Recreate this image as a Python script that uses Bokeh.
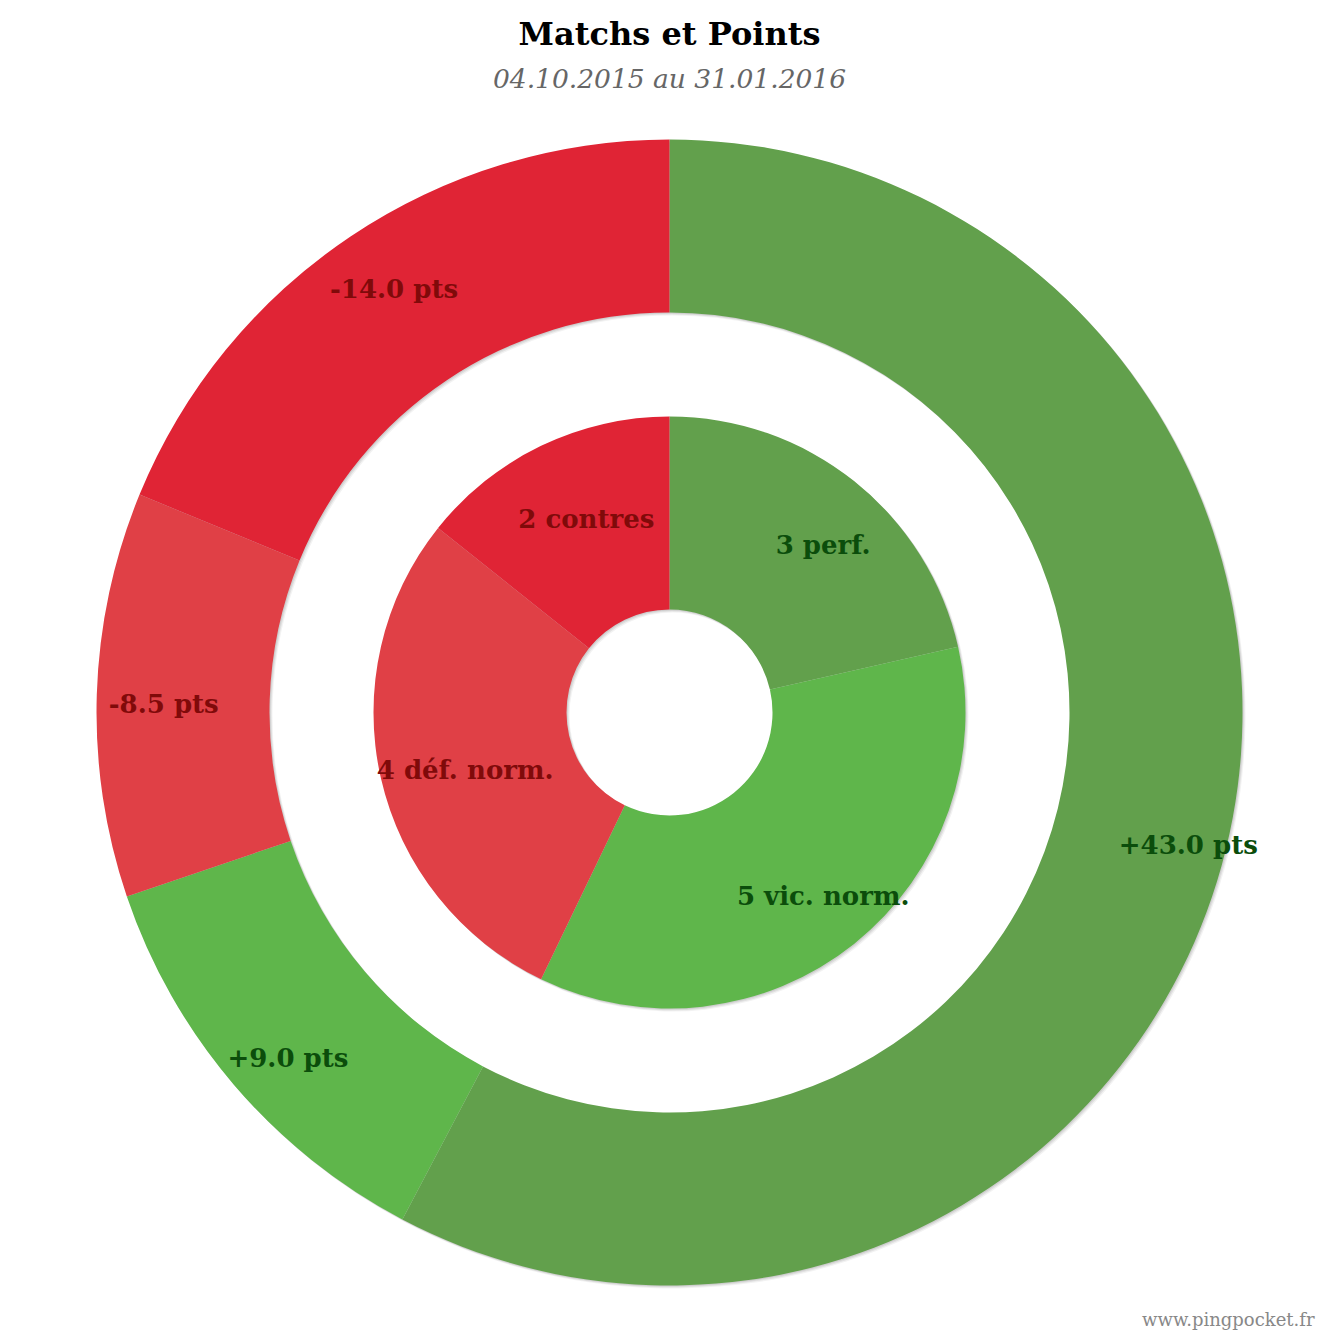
import numpy as np
from bokeh.plotting import figure
from bokeh.models import Range1d, ColumnDataSource, Label
from bokeh.core.properties import value
from bokeh.embed import file_html
from bokeh.resources import INLINE

# ---- data ----
title_text = "Matchs et Points"
subtitle_text = "04.10.2015 au 31.01.2016"
credit_text = "www.pingpocket.fr"

inner_labels = ["3 perf.", "5 vic. norm.", "4 déf. norm.", "2 contres"]
inner_values = [3, 5, 4, 2]
outer_labels = ["+43.0 pts", "+9.0 pts", "-8.5 pts", "-14.0 pts"]
outer_values = [43.0, 9.0, 8.5, 14.0]

slice_colors = ["#62A04C", "#5FB64B", "#E04046", "#E02435"]
text_colors = ["#0B4D0B", "#0B4D0B", "#800A0A", "#800A0A"]

# ---- layout ----
W = H = 1330
CX, CY = 669, -712
R_OUT_O, R_OUT_I = 573, 400
R_IN_O, R_IN_I = 296, 103
FONT = "DejaVu Serif"

p = figure(width=W, height=H, output_backend="svg", toolbar_location=None,
           x_range=Range1d(0, W), y_range=Range1d(-H, 0),
           x_axis_location=None, y_axis_location=None, min_border=0)
p.grid.visible = False
p.outline_line_color = None
p.background_fill_color = "white"


def ring(values, labels, r_in, r_out, label_r):
    v = np.asarray(values, dtype=float)
    frac = v / v.sum()
    cum = np.concatenate([[0.0], np.cumsum(frac)])
    th0 = cum[:-1] * 2 * np.pi  # clockwise from top
    th1 = cum[1:] * 2 * np.pi
    start = np.pi / 2 - th1
    end = np.pi / 2 - th0
    mid = (th0 + th1) / 2
    src = ColumnDataSource(dict(
        start=start, end=end, color=slice_colors,
        lx=CX + label_r * np.sin(mid), ly=CY + label_r * np.cos(mid),
        label=labels, tcolor=text_colors))
    # shadow
    for off, a in [(3.0, 0.05), (2.0, 0.07), (1.0, 0.08)]:
        p.annular_wedge(x=CX + off, y=CY - off, inner_radius=r_in, outer_radius=r_out,
                        start_angle="start", end_angle="end", source=src,
                        fill_color="black", fill_alpha=a, line_color=None)
    p.annular_wedge(x=CX, y=CY, inner_radius=r_in, outer_radius=r_out,
                    start_angle="start", end_angle="end", source=src,
                    fill_color="color", line_color=None)
    return src


src_out = ring(outer_values, outer_labels, R_OUT_I, R_OUT_O, 520)
src_in = ring(inner_values, inner_labels, R_IN_I, R_IN_O, 224)

for src in (src_out, src_in):
    p.text(x="lx", y="ly", text="label", source=src, text_color="tcolor",
           text_font=value(FONT), text_font_style="bold", text_font_size="26px",
           text_align="center", text_baseline="middle", x_offset=14, y_offset=8)

p.add_layout(Label(x=669, y=-33, text=title_text, text_font=FONT, text_font_style="bold",
                   text_font_size="32px", text_color="black",
                   text_align="center", text_baseline="middle"))
p.add_layout(Label(x=669, y=-78, text=subtitle_text, text_font=FONT, text_font_style="italic",
                   text_font_size="26.5px", text_color="#666666",
                   text_align="center", text_baseline="middle"))
p.add_layout(Label(x=1314, y=-1319, text=credit_text, text_font=FONT,
                   text_font_size="18px", text_color="#888888",
                   text_align="right", text_baseline="middle"))

open("out.html", "w").write(file_html(p, INLINE))
